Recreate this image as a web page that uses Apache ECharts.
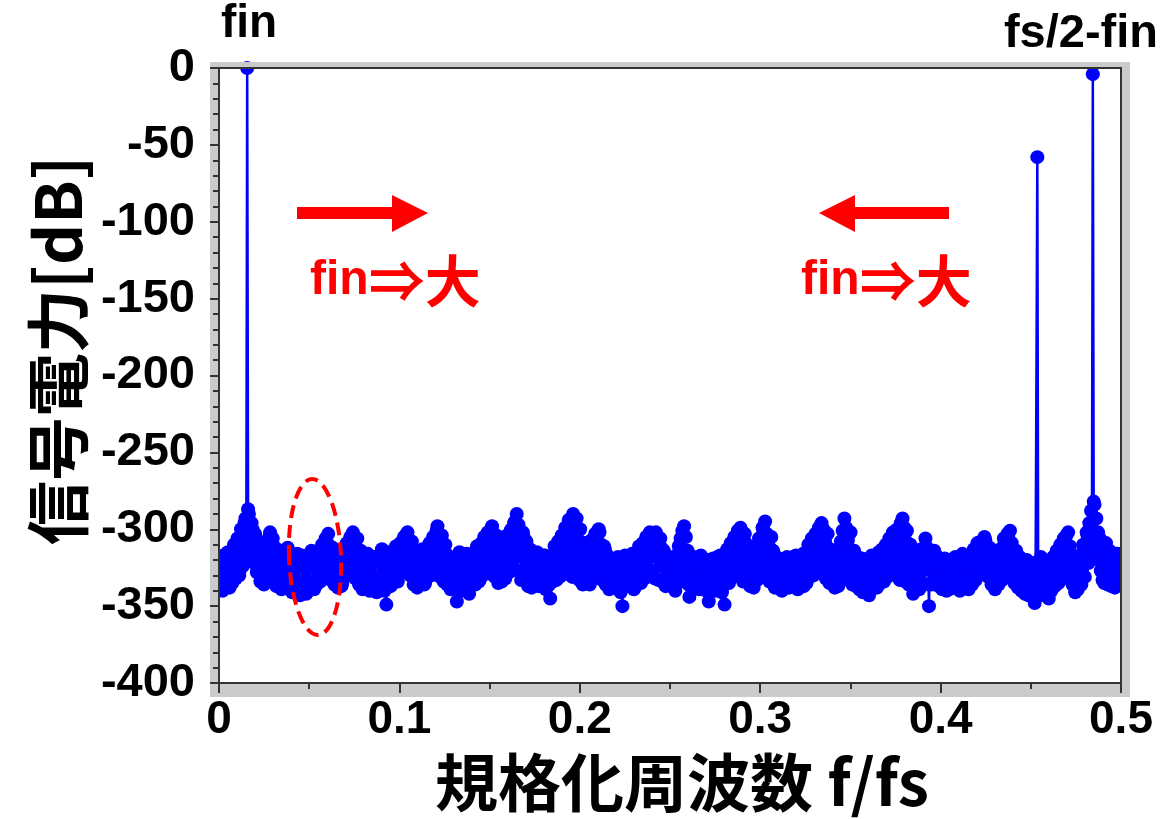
<!DOCTYPE html>
<html>
<head>
<meta charset="utf-8">
<script src="https://cdn.jsdelivr.net/npm/echarts@6/dist/echarts.min.js"></script>
<style>
  html, body { margin: 0; padding: 0; background: #ffffff; }
  #chart { width: 1169px; height: 819px; }
</style>
</head>
<body>
<div id="chart"></div>
<script>
// FFT output: 1024 bins spanning 0 .. fs/2, value per bin in dB
const binCount = 1024;
const binWidth = 0.5 / binCount;

const spectrumDb = [
  // bins 0-31
  -336, -320, -318, -334, -340, -317, -322, -337, -333, -316, -315, -331, -338, -318, -320, -335,
  -331, -310, -312, -332, -329, -306, -308, -330, -326, -300, -302, -324, -318, -296, -293, -310,
  // bin 32: input tone (fin)
  0, -287,
  // bins 34-63
  -290, -305, -316, -296, -300, -320, -322, -303, -306, -328, -326, -309, -310, -334, -330, -312,
  -316, -336, -333, -313, -308, -330, -325, -305, -302, -322, -318, -306, -311, -329,
  // bins 64-95
  -324, -337, -313, -330, -334, -319, -316, -339, -338, -321, -318, -333, -335, -315, -312, -336,
  -331, -318, -316, -341, -340, -322, -318, -334, -337, -316, -320, -342, -343, -323, -317, -331,
  // bins 96-127
  -336, -318, -321, -342, -341, -320, -317, -335, -334, -314, -319, -338, -339, -321, -322, -336,
  -333, -315, -316, -334, -330, -310, -312, -331, -327, -306, -308, -329, -303, -318, -311, -333,
  // bins 128-159
  -326, -312, -314, -336, -332, -317, -318, -338, -329, -315, -320, -337, -335, -317, -314, -331,
  -328, -309, -311, -330, -325, -305, -307, -327, -302, -318, -310, -332, -321, -306, -315, -336,
  // bins 160-191
  -330, -314, -318, -339, -336, -319, -320, -334, -333, -316, -317, -340, -338, -321, -322, -335,
  -334, -318, -319, -341, -337, -320, -321, -336, -332, -313, -316, -338, -340, -322, -349, -325,
  // bins 192-223
  -329, -315, -318, -337, -334, -319, -320, -333, -327, -311, -313, -334, -330, -310, -309, -328,
  -324, -307, -305, -325, -318, -303, -302, -321, -312, -330, -326, -308, -315, -336, -333, -316,
  // bins 224-255
  -320, -338, -336, -317, -318, -334, -331, -313, -314, -336, -335, -316, -317, -331, -327, -309,
  -310, -330, -322, -305, -306, -327, -315, -301, -298, -320, -308, -331, -319, -304, -312, -334,
  // bins 256-287
  -325, -310, -316, -336, -330, -318, -319, -339, -336, -320, -321, -334, -333, -318, -347, -322,
  -329, -315, -318, -340, -337, -321, -320, -335, -334, -316, -317, -339, -342, -320, -322, -336,
  // bins 288-319
  -331, -317, -315, -336, -327, -311, -312, -334, -333, -310, -309, -330, -324, -305, -306, -329,
  -318, -302, -303, -326, -311, -300, -298, -322, -307, -331, -319, -304, -313, -335, -328, -310,
  // bins 320-351
  -316, -334, -330, -309, -311, -332, -326, -304, -305, -328, -320, -301, -300, -324, -312, -296,
  -295, -318, -290, -327, -297, -315, -309, -333, -318, -302, -305, -330, -325, -308, -314, -337,
  // bins 352-383
  -331, -313, -318, -338, -335, -319, -320, -333, -329, -315, -316, -337, -336, -320, -322, -334,
  -333, -317, -317, -339, -338, -320, -321, -336, -345, -322, -319, -334, -330, -311, -314, -333,
  // bins 384-415
  -325, -308, -310, -331, -321, -304, -306, -327, -316, -299, -301, -324, -311, -294, -296, -320,
  -305, -331, -290, -316, -298, -326, -293, -312, -307, -333, -300, -318, -314, -336, -322, -309,
  // bins 416-447
  -311, -334, -327, -314, -316, -336, -331, -307, -309, -330, -322, -303, -305, -326, -315, -300,
  -302, -324, -310, -333, -320, -311, -313, -336, -328, -317, -318, -339, -335, -320, -321, -337,
  // bins 448-479
  -338, -321, -320, -335, -334, -318, -322, -340, -341, -323, -350, -326, -333, -317, -319, -337,
  -336, -320, -317, -334, -332, -316, -321, -339, -338, -319, -316, -333, -330, -311, -313, -335,
  // bins 480-511
  -326, -309, -310, -332, -320, -305, -307, -329, -315, -302, -304, -327, -311, -306, -308, -332,
  -302, -318, -309, -333, -318, -306, -312, -334, -324, -314, -316, -337, -331, -318, -319, -336,
  // bins 512-543
  -335, -319, -321, -337, -338, -320, -340, -317, -318, -335, -311, -331, -306, -328, -301, -322,
  -298, -319, -305, -333, -314, -336, -344, -322, -322, -338, -334, -318, -319, -336, -337, -321,
  // bins 544-575
  -321, -339, -333, -317, -318, -337, -338, -322, -323, -340, -336, -320, -347, -325, -320, -338,
  -335, -319, -322, -340, -339, -321, -318, -335, -333, -317, -320, -341, -337, -322, -349, -326,
  // bins 576-607
  -326, -313, -315, -335, -321, -309, -311, -331, -316, -305, -307, -329, -310, -301, -303, -326,
  -299, -320, -306, -334, -314, -303, -309, -331, -322, -312, -316, -337, -330, -317, -319, -338,
  // bins 608-639
  -327, -311, -313, -333, -318, -306, -308, -330, -312, -299, -301, -325, -295, -320, -303, -330,
  -311, -334, -318, -305, -326, -314, -320, -338, -333, -318, -319, -336, -336, -320, -322, -340,
  // bins 640-671
  -339, -322, -321, -336, -334, -318, -319, -338, -337, -320, -323, -334, -318, -335, -330, -317,
  -321, -339, -336, -320, -320, -334, -333, -316, -337, -319, -317, -335, -328, -310, -312, -331,
  // bins 672-703
  -324, -306, -309, -330, -318, -303, -305, -327, -312, -299, -302, -325, -296, -320, -300, -329,
  -308, -332, -314, -303, -322, -335, -313, -330, -329, -316, -318, -338, -334, -319, -320, -337,
  // bins 704-735
  -316, -333, -308, -328, -301, -324, -293, -318, -299, -330, -307, -333, -315, -302, -321, -336,
  -328, -314, -318, -337, -333, -318, -321, -339, -337, -320, -319, -341, -340, -322, -323, -338,
  // bins 736-767
  -336, -321, -343, -327, -330, -317, -318, -336, -334, -319, -320, -338, -329, -315, -317, -335,
  -332, -313, -315, -334, -326, -310, -312, -331, -321, -306, -308, -329, -316, -302, -304, -327,
  // bins 768-799
  -311, -330, -300, -322, -306, -333, -296, -318, -293, -327, -299, -334, -308, -301, -316, -336,
  -323, -310, -330, -317, -342, -322, -320, -338, -333, -318, -318, -339, -329, -313, -314, -335,
  // bins 800-831
  -320, -336, -306, -326, -312, -322, -350, -324, -318, -336, -325, -316, -314, -333, -330, -318,
  -318, -337, -334, -320, -321, -339, -337, -322, -319, -338, -340, -324, -322, -339, -335, -320,
  // bins 832-863
  -320, -337, -333, -319, -318, -335, -336, -321, -322, -340, -331, -318, -316, -334, -319, -337,
  -334, -320, -321, -339, -337, -322, -318, -336, -330, -313, -315, -333, -326, -309, -311, -329,
  // bins 864-895
  -322, -308, -310, -328, -316, -305, -307, -325, -314, -331, -323, -312, -319, -336, -332, -317,
  -321, -339, -335, -319, -318, -336, -329, -313, -314, -333, -324, -306, -309, -329, -318, -303,
  // bins 896-927
  -305, -326, -301, -319, -309, -331, -317, -335, -325, -314, -320, -338, -331, -318, -322, -340,
  -336, -321, -324, -342, -333, -320, -326, -343, -339, -324, -328, -344, -341, -322, -348, -330,
  // bins 928-931: spurious component
  -200, -58, -336, -322,
  // bins 932-959
  -335, -318, -326, -341, -343, -325, -329, -339, -338, -322, -345, -328, -327, -340, -334, -318,
  -321, -337, -330, -314, -317, -335, -326, -310, -313, -332, -322, -306,
  // bins 960-991
  -309, -330, -304, -322, -302, -327, -311, -333, -320, -336, -327, -318, -341, -325, -325, -339,
  -333, -317, -318, -336, -326, -310, -312, -331, -318, -302, -304, -322, -296, -314, -288, -306,
  // bin 992: image tone (fs/2 - fin)
  -4, -282,
  // bins 994-1024
  -284, -303, -293, -312, -302, -320, -306, -327, -314, -333, -311, -335, -322, -309, -318, -336,
  -330, -314, -316, -337, -327, -318, -319, -338, -331, -316, -316, -334, -326, -318, -320
];

// bins drawn as a bare line vertex, without a marker
const unmarkedBins = [928];

const toneLabels = ['fin', 'fs/2-fin'];
const trendText = ['fin', '⇒大'];
const yAxisTitle = '信号電力[dB]';
const xAxisTitle = '規格化周波数 f/fs';

const spectrumPoints = spectrumDb.map((v, i) =>
  unmarkedBins.includes(i)
    ? { value: [i * binWidth, v], symbol: 'none' }
    : [i * binWidth, v]
);

const FRAME_GREY = '#cbcbcb';
const LATIN = "'Liberation Sans', Arial, 'Noto Sans CJK JP', sans-serif";
const CJK = "'Noto Sans CJK JP', 'Liberation Sans', sans-serif";

const chart = echarts.init(document.getElementById('chart'), null, { renderer: 'canvas' });

const trendRich = {
  a: { font: "bold 48px " + LATIN, fill: '#ff0000', color: '#ff0000' },
  b: { font: "bold 56px " + CJK, fill: '#ff0000', color: '#ff0000' }
};

chart.setOption({
  animation: false,
  backgroundColor: '#ffffff',
  grid: {
    left: 219, top: 68, right: 48, bottom: 135,
    show: true, z: 20,
    backgroundColor: 'transparent',
    borderColor: '#333333', borderWidth: 2
  },
  xAxis: {
    type: 'value', min: 0, max: 0.5, interval: 0.1, z: 20,
    axisLine: { onZero: false, lineStyle: { color: '#333333', width: 2 } },
    axisTick: { show: true, length: 10, lineStyle: { color: '#333333', width: 2 } },
    minorTick: { show: true, splitNumber: 2, length: 6, lineStyle: { color: '#333333', width: 2 } },
    splitLine: { show: false },
    axisLabel: {
      margin: 14, color: '#000000', fontFamily: LATIN, fontWeight: 'bold', fontSize: 46,
      formatter: v => String(Math.round(v * 10) / 10)
    },
    name: xAxisTitle, nameLocation: 'middle', nameGap: 68,
    nameTextStyle: { color: '#000000', fontFamily: CJK, fontWeight: 'bold', fontSize: 63, padding: [0, 0, 0, 24] }
  },
  yAxis: {
    type: 'value', min: -400, max: 0, interval: 50, z: 20,
    axisLine: { onZero: false, lineStyle: { color: '#333333', width: 2 } },
    axisTick: { show: true, length: 9, lineStyle: { color: '#333333', width: 2 } },
    minorTick: { show: true, splitNumber: 5, length: 6, lineStyle: { color: '#333333', width: 2 } },
    splitLine: { show: false },
    axisLabel: { margin: 24, color: '#000000', fontFamily: LATIN, fontWeight: 'bold', fontSize: 47 },
    name: yAxisTitle, nameLocation: 'middle', nameGap: 124, nameRotate: 90,
    nameTextStyle: { color: '#000000', fontFamily: CJK, fontWeight: 'bold', fontSize: 64, padding: [0, 0, 0, 50] }
  },
  series: [{
    type: 'line',
    data: spectrumPoints,
    z: 5,
    showAllSymbol: true,
    symbol: 'circle',
    symbolSize: 14,
    sampling: null,
    clip: true,
    itemStyle: { color: '#0000ff' },
    lineStyle: { color: '#0000ff', width: 2.5 },
    emphasis: { disabled: true }
  }],
  graphic: [
    // grey frame around the plotting area
    { type: 'rect', z: 10, silent: true, shape: { x: 210, y: 62, width: 920, height: 6 }, style: { fill: FRAME_GREY } },
    { type: 'rect', z: 10, silent: true, shape: { x: 210, y: 62, width: 9, height: 635 }, style: { fill: FRAME_GREY } },
    { type: 'rect', z: 10, silent: true, shape: { x: 1121, y: 62, width: 9, height: 635 }, style: { fill: FRAME_GREY } },
    { type: 'rect', z: 10, silent: true, shape: { x: 210, y: 684, width: 920, height: 13 }, style: { fill: FRAME_GREY } },

    // tone labels
    { type: 'text', z: 30, style: { text: toneLabels[0], x: 221, y: 47, textVerticalAlign: 'bottom', font: "bold 46px " + LATIN, fill: '#000000' } },
    { type: 'text', z: 30, style: { text: toneLabels[1], x: 1158, y: 58, textAlign: 'right', textVerticalAlign: 'bottom', font: "bold 47px " + LATIN, fill: '#000000' } },

    // arrows showing how the tones move as fin increases
    { type: 'polygon', z: 30, shape: { points: [[297, 207], [392, 207], [392, 195], [428, 213], [392, 232], [392, 219], [297, 219]] }, style: { fill: '#ff0000' } },
    { type: 'polygon', z: 30, shape: { points: [[949, 207], [855, 207], [855, 195], [819, 213], [855, 232], [855, 219], [949, 219]] }, style: { fill: '#ff0000' } },

    { type: 'text', z: 30, style: {
        text: '{a|' + trendText[0] + '}{b|' + trendText[1] + '}', x: 310, y: 309, textVerticalAlign: 'bottom', rich: trendRich
      } },
    { type: 'text', z: 30, style: {
        text: '{a|' + trendText[0] + '}{b|' + trendText[1] + '}', x: 801, y: 309, textVerticalAlign: 'bottom', rich: trendRich
      } },

    // dashed ellipse marking the noise floor region
    { type: 'ellipse', z: 30, rotation: 0.04, originX: 315, originY: 557,
      shape: { cx: 315, cy: 557, rx: 26, ry: 78 },
      style: { fill: 'none', stroke: '#ff0000', lineWidth: 4, lineDash: [13, 7] } }
  ]
});
</script>
</body>
</html>
